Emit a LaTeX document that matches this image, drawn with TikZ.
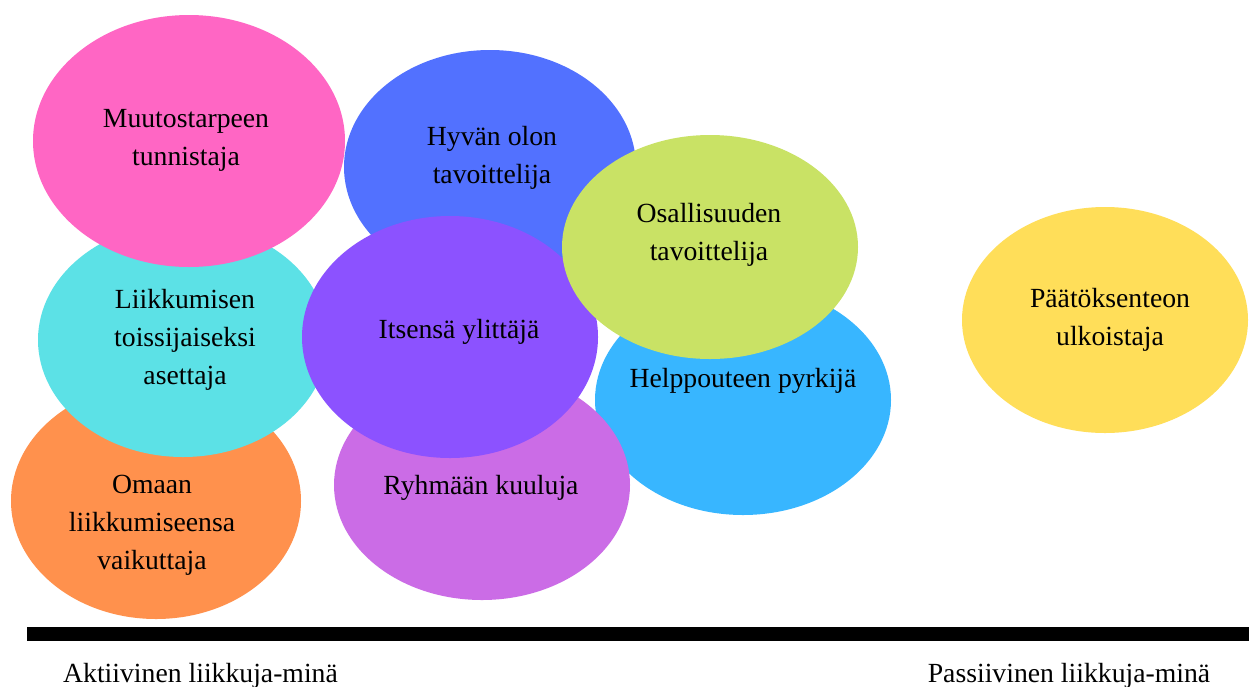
\documentclass[tikz,border=0pt]{standalone}
\usepackage{fontspec}
\setmainfont{Liberation Serif}
\usetikzlibrary{shapes.geometric}
\definecolor{cpink}{HTML}{FF66C4}
\definecolor{cblue}{HTML}{5271FF}
\definecolor{cteal}{HTML}{5CE1E6}
\definecolor{corange}{HTML}{FF914D}
\definecolor{cviolet}{HTML}{8C52FF}
\definecolor{cpurple}{HTML}{CB6CE6}
\definecolor{csky}{HTML}{38B6FF}
\definecolor{clime}{HTML}{C9E265}
\definecolor{cyellow}{HTML}{FFDE59}
\tikzset{
  blob/.style={ellipse, draw=none, inner sep=0pt},
  lbl/.style={align=center, inner sep=0pt, anchor=base, text=black,
    font=\fontsize{27.7}{38}\selectfont},
}
\begin{document}
\begin{tikzpicture}[x=1pt,y=-1pt]
\useasboundingbox (0,0) rectangle (1249,686);
\fill[white] (0,0) rectangle (1249,686);
% ellipses, back to front
\node[blob, fill=corange, minimum width=290pt, minimum height=236pt] (orange) at (156,501) {};
\node[blob, fill=cteal, minimum width=290pt, minimum height=234pt] (teal) at (183,340) {};
\node[blob, fill=cpink, minimum width=312pt, minimum height=252pt] (pink) at (189,141) {};
\node[blob, fill=cblue, minimum width=292pt, minimum height=234pt] (blue) at (490,167) {};
\node[blob, fill=csky, minimum width=296pt, minimum height=230pt] (sky) at (743,400) {};
\node[blob, fill=cpurple, minimum width=296pt, minimum height=230pt] (purple) at (482,485) {};
\node[blob, fill=cviolet, minimum width=296pt, minimum height=242pt] (violet) at (450,337) {};
\node[blob, fill=clime, minimum width=296pt, minimum height=224pt] (lime) at (710,247) {};
\node[blob, fill=cyellow, minimum width=286pt, minimum height=226pt] (yellow) at (1105,320) {};
% labels (base = baseline of the last line)
\node[lbl] (tpink) at (186,165) {Muutostarpeen\\tunnistaja};
\node[lbl] (tblue) at (492,183) {Hyvän olon\\tavoittelija};
\node[lbl] (tlime) at (709,260) {Osallisuuden\\tavoittelija};
\node[lbl] (tteal) at (185,384) {Liikkumisen\\toissijaiseksi\\asettaja};
\node[lbl] (tviolet) at (459,338) {Itsensä ylittäjä};
\node[lbl] (tyellow) at (1110,345) {Päätöksenteon\\ulkoistaja};
\node[lbl] (tsky) at (743,387) {Helppouteen pyrkijä};
\node[lbl] (torange) at (152,569) {Omaan\\liikkumiseensa\\vaikuttaja};
\node[lbl] (tpurple) at (481,494) {Ryhmään kuuluja};
% axis
\fill[black] (27,627) rectangle (1249,641);
\node[lbl] (active) at (200.5,682) {Aktiivinen liikkuja-minä};
\node[lbl] (passive) at (1069,682) {Passiivinen liikkuja-minä};
\end{tikzpicture}
\end{document}
